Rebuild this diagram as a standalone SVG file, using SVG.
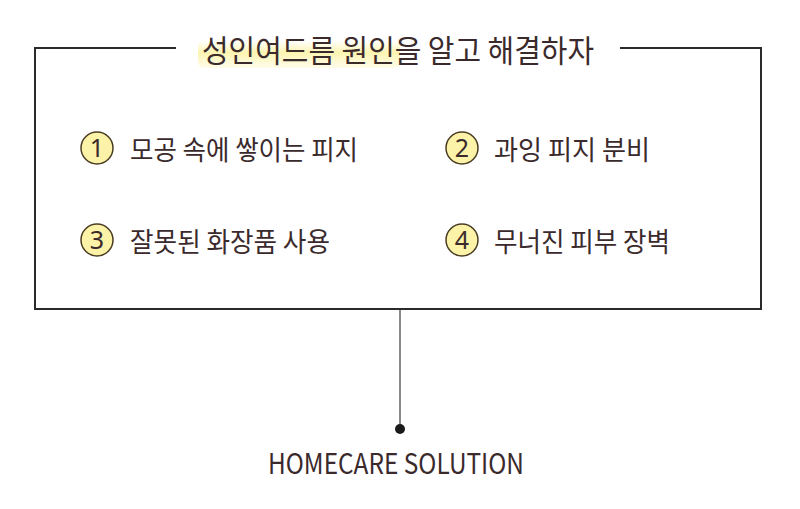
<svg xmlns="http://www.w3.org/2000/svg" width="800" height="509" viewBox="0 0 800 509">
<style>
.t{font-family:"Noto Sans CJK KR","Noto Sans",sans-serif;fill:#3b2a2c}
.num{font-family:"Noto Sans","Noto Sans CJK KR",sans-serif;fill:#3b2a2c;font-size:25px;text-anchor:middle}
.c{fill:#fcf3a8;stroke:#4a3c22;stroke-width:1.5}
.frame{fill:none;stroke:#2a2a2a;stroke-width:2}
</style>
<defs>
<linearGradient id="hl" x1="0" y1="0" x2="0" y2="1">
<stop offset="0" stop-color="#fdf6b8" stop-opacity="0"/>
<stop offset="0.45" stop-color="#fbf3a6" stop-opacity="0.9"/>
<stop offset="1" stop-color="#fdf6b8" stop-opacity="0.3"/>
</linearGradient>
</defs>
<rect width="800" height="509" fill="#ffffff"/>
<g id="frame">
<path class="frame" d="M176 48 H35 V309 H761 V48 H620"/>
</g>
<g id="title">
<rect x="198" y="40" width="202" height="28" rx="6" fill="url(#hl)"/>
<text class="t" x="398" y="62" font-size="31" text-anchor="middle" textLength="392" lengthAdjust="spacingAndGlyphs">성인여드름 원인을 알고 해결하자</text>
</g>
<g id="item1">
<circle class="c" cx="97" cy="148" r="16"/>
<text class="num" x="97" y="157">1</text>
<text class="t" x="130" y="160" font-size="27" textLength="228" lengthAdjust="spacingAndGlyphs">모공 속에 쌓이는 피지</text>
</g>
<g id="item2">
<circle class="c" cx="462" cy="148" r="16"/>
<text class="num" x="462" y="157">2</text>
<text class="t" x="494" y="160" font-size="27" textLength="156" lengthAdjust="spacingAndGlyphs">과잉 피지 분비</text>
</g>
<g id="item3">
<circle class="c" cx="97" cy="240" r="16"/>
<text class="num" x="97" y="249">3</text>
<text class="t" x="130" y="252" font-size="27" textLength="200" lengthAdjust="spacingAndGlyphs">잘못된 화장품 사용</text>
</g>
<g id="item4">
<circle class="c" cx="462" cy="240" r="16"/>
<text class="num" x="462" y="249">4</text>
<text class="t" x="494" y="252" font-size="27" textLength="176" lengthAdjust="spacingAndGlyphs">무너진 피부 장벽</text>
</g>
<g id="connectors">
<line x1="400" y1="310" x2="400" y2="428" stroke="#8a8a8a" stroke-width="2"/>
<circle cx="400" cy="429" r="5" fill="#1a1a1a"/>
</g>
<g id="solution">
<text class="t" x="396" y="474" font-size="28" text-anchor="middle" textLength="256" lengthAdjust="spacingAndGlyphs">HOMECARE SOLUTION</text>
</g>
</svg>
